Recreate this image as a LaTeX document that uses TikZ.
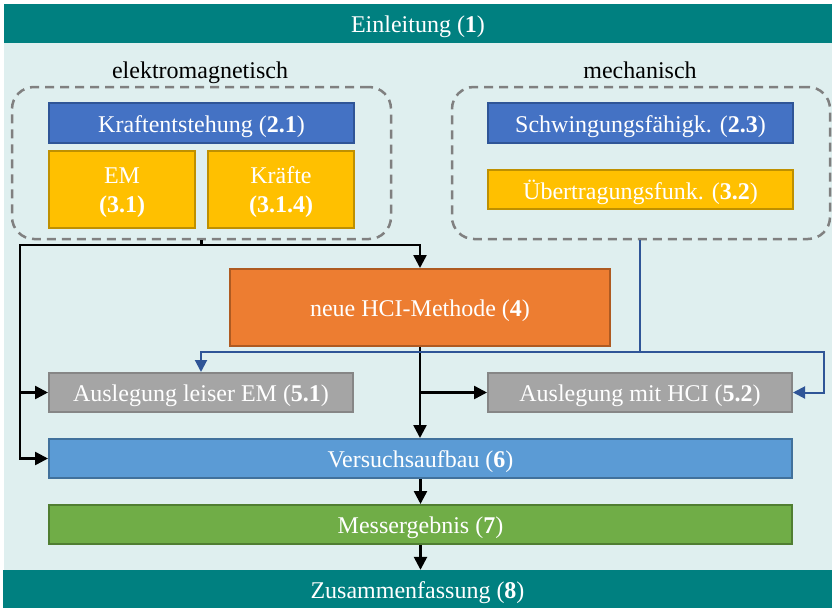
\documentclass[tikz,border=0pt]{standalone}
\usepackage{fontspec}
\setmainfont{Liberation Serif}
\usetikzlibrary{arrows.meta}
\definecolor{tealbar}{HTML}{008080}
\definecolor{bgc}{HTML}{DFEFEF}
\definecolor{bluef}{HTML}{4472C4}
\definecolor{blued}{HTML}{2F5597}
\definecolor{goldf}{HTML}{FFC000}
\definecolor{goldd}{HTML}{BF9000}
\definecolor{orangef}{HTML}{ED7D31}
\definecolor{oranged}{HTML}{AE5A21}
\definecolor{grayf}{HTML}{A5A5A5}
\definecolor{grayd}{HTML}{868686}
\definecolor{lbluef}{HTML}{5B9BD5}
\definecolor{lblued}{HTML}{41719C}
\definecolor{greenf}{HTML}{70AD47}
\definecolor{greend}{HTML}{507E32}
\definecolor{dashc}{HTML}{808080}
\definecolor{linkblue}{HTML}{2F5597}
\newcommand{\dropt}[1]{\raisebox{-3.2pt}[\height][\depth]{#1}}
\newcommand{\twol}[2]{\dropt{\begin{tabular}{@{}c@{}}#1\\[1.5pt]#2\end{tabular}}}
\tikzset{
  box/.style={rectangle, line width=2pt, text=white, font=\fontsize{24}{27}\selectfont, inner sep=0pt},
  bar/.style={rectangle, fill=tealbar, text=white, font=\fontsize{24}{27}\selectfont, inner sep=0pt},
  grp/.style={rectangle, rounded corners=22pt, draw=dashc, line width=2.5pt, dash pattern=on 9pt off 6pt},
  lbl/.style={font=\fontsize{24}{27}\selectfont, text=black, anchor=base, inner sep=0pt},
  blk/.style={draw=black, line width=2.5pt, -{Triangle[length=13pt,width=13pt]}},
  blkl/.style={draw=black, line width=2.5pt},
  blu/.style={draw=linkblue, line width=2pt, -{Triangle[length=12pt,width=12pt]}},
  blul/.style={draw=linkblue, line width=2pt},
}
\begin{document}
\begin{tikzpicture}[x=1pt,y=-1pt]
\useasboundingbox (0,0) rectangle (832,608);
\fill[white] (0,0) rectangle (832,608);
\fill[bgc] (4,43) rectangle (832,570);
\node[bar, minimum width=828pt, minimum height=39pt] (intro) at (418,23.5) {\dropt{Einleitung (\textbf{1})}};
\node[bar, minimum width=829pt, minimum height=38pt] (outro) at (417.5,589) {\dropt{Zusammenfassung (\textbf{8})}};
% groups
\node[grp, minimum width=379pt, minimum height=152pt] (gl) at (201.5,163) {};
\node[grp, minimum width=378pt, minimum height=152pt] (gr) at (641,163) {};
\node[lbl] (ll) at (200,78) {elektromagnetisch};
\node[lbl] (lr) at (640,78) {mechanisch};
% boxes
\node[box, fill=bluef, draw=blued, minimum width=305pt, minimum height=40pt] (k21) at (201.5,123) {\dropt{Kraftentstehung (\textbf{2.1})}};
\node[box, fill=goldf, draw=goldd, minimum width=146pt, minimum height=77pt] (em) at (122,189.5) {\twol{EM}{\textbf{(3.1)}}};
\node[box, fill=goldf, draw=goldd, minimum width=146pt, minimum height=77pt] (kr) at (281,189.5) {\twol{Kräfte}{\textbf{(3.1.4)}}};
\node[box, fill=bluef, draw=blued, minimum width=305pt, minimum height=40pt] (s23) at (640.5,123) {\dropt{Schwingungsfähigk. (\textbf{2.3})}};
\node[box, fill=goldf, draw=goldd, minimum width=305pt, minimum height=39pt] (u32) at (640.5,189.5) {\dropt{Übertragungsfunk. (\textbf{3.2})}};
\node[box, fill=orangef, draw=oranged, minimum width=380pt, minimum height=77pt] (hci) at (420,307.5) {\dropt{neue HCI-Methode (\textbf{4})}};
\node[box, fill=grayf, draw=grayd, minimum width=304pt, minimum height=39pt] (a51) at (201,392.5) {\dropt{Auslegung leiser EM (\textbf{5.1})}};
\node[box, fill=grayf, draw=grayd, minimum width=304pt, minimum height=39pt] (a52) at (640,392.5) {\dropt{Auslegung mit HCI (\textbf{5.2})}};
\node[box, fill=lbluef, draw=lblued, minimum width=743pt, minimum height=39pt] (vers) at (420.5,458.5) {\dropt{Versuchsaufbau (\textbf{6})}};
\node[box, fill=greenf, draw=greend, minimum width=743pt, minimum height=39pt] (mess) at (420.5,524.5) {\dropt{Messergebnis (\textbf{7})}};
% black connectors
\coordinate (j1) at (201.5,245);
\coordinate (lx) at (20,245);
\draw[blkl] (gl.south) -- (j1);
\draw[blk] (j1) -| (hci.north);
\draw[blk] (j1) -- (lx) |- (vers.west);
\draw[blk] (lx |- a51.west) -- (a51.west);
\draw[blk] (hci.south) -- (hci.south |- vers.north);
\draw[blk] (hci.south |- a52.west) -- (a52.west);
\draw[blk] (mess.north |- vers.south) -- (mess.north);
\draw[blk] (mess.south) -- (mess.south |- outro.north);
% blue connectors
\coordinate (bj) at (640,352);
\coordinate (br) at (824,352);
\draw[blul] (gr.south -| bj) -- (bj);
\draw[blu] (bj) -| (a51.north);
\draw[blu] (bj) -- (br) |- (a52.east);
\end{tikzpicture}
\end{document}
